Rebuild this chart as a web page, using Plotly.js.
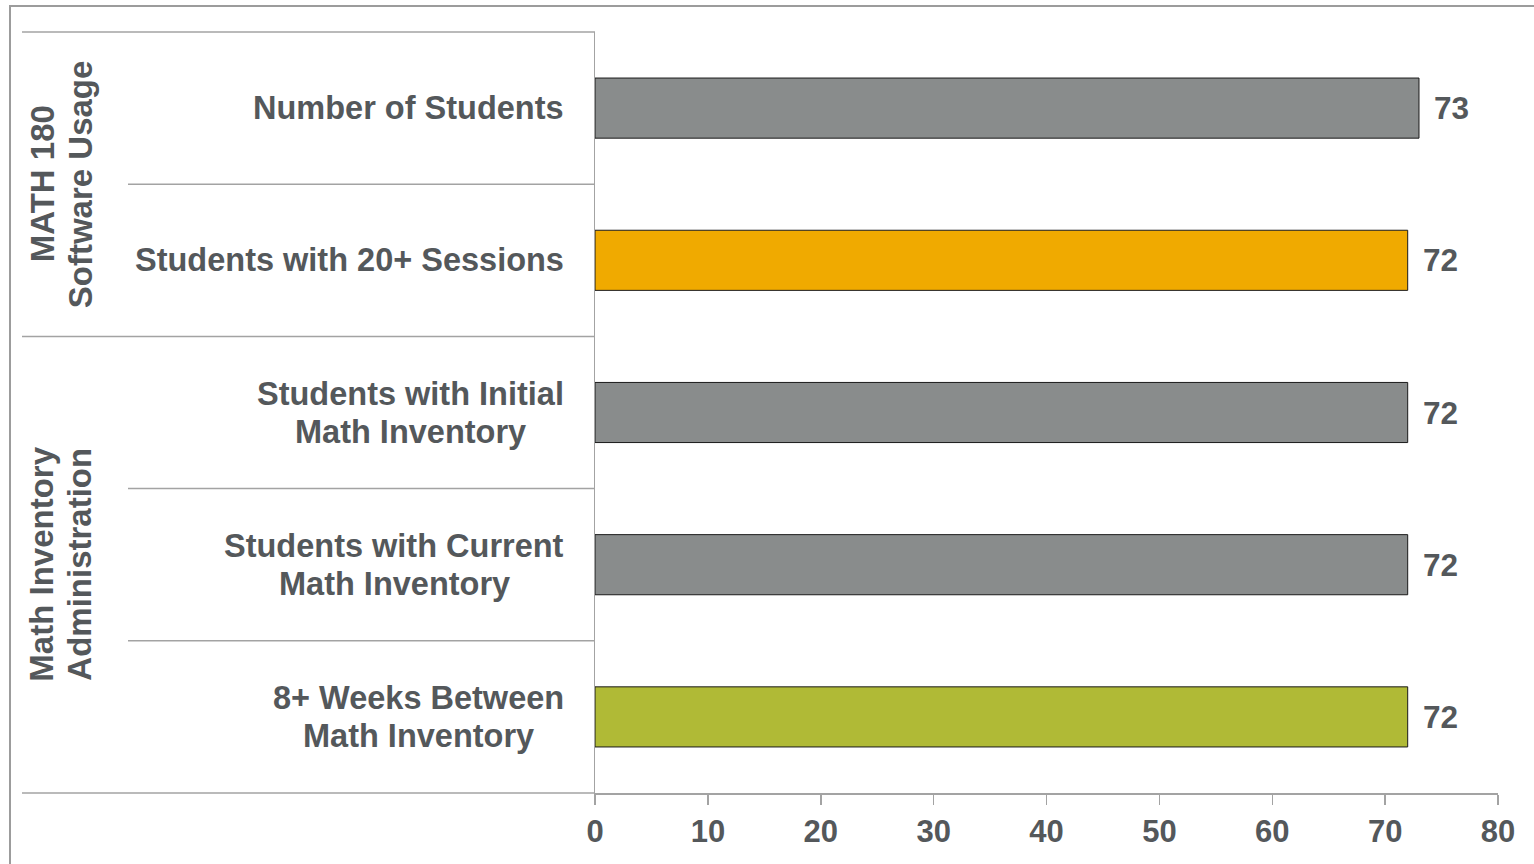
<!DOCTYPE html>
<html>
<head>
<meta charset="utf-8">
<script src="https://cdn.plot.ly/plotly-3.0.1.min.js"></script>
<style>
html,body{margin:0;padding:0;background:#fff;}
#chart{width:1534px;height:864px;}
</style>
</head>
<body>
<div id="chart"></div>
<script>
// ---- data ----
const categories = [
  "Number of Students",
  "Students with 20+ Sessions",
  "Students with Initial Math Inventory",
  "Students with Current Math Inventory",
  "8+ Weeks Between Math Inventory"
];
const categoryLabels = [
  "Number of Students",
  "Students with 20+ Sessions",
  "Students with Initial<br>Math Inventory",
  "Students with Current<br>Math Inventory",
  "8+ Weeks Between<br>Math Inventory"
];
const values = [73, 72, 72, 72, 72];
const barColors = ["#898c8c", "#f0aa00", "#898c8c", "#898c8c", "#b0ba36"];
const groupLabels = ["MATH 180<br>Software Usage", "Math Inventory<br>Administration"];
const groupCenters = [0.5, 3];   // category-index centers of each group
const xTicks = [0, 10, 20, 30, 40, 50, 60, 70, 80];

// ---- layout helpers ----
const W = 1534, H = 864;
const L = 595, R = 1498, T = 32, B = 793;
const px = v => (v - L) / (R - L);
const py = v => (B - v) / (B - T);
const textColor = "#54585b";
const lineColor = "#a3a3a3";
const fontFam = "'Liberation Sans', Arial, sans-serif";
const lineGap = 38;

const trace = {
  type: "bar",
  orientation: "h",
  y: categories,
  x: values,
  marker: { color: barColors, line: { color: "#1a1a1a", width: 1 } },
  hoverinfo: "skip"
};

const annotations = [];
categories.forEach((c, i) => {
  const lines = categoryLabels[i].split("<br>");
  const n = lines.length;
  // find widest line so lines are centered on a common axis, right edge at 566
  lines.forEach((ln, k) => {
    annotations.push({
      xref: "paper", yref: "y", x: px(566), y: c,
      xanchor: "right", yanchor: "middle",
      yshift: ((n - 1) / 2 - k) * lineGap,
      text: ln, showarrow: false, _line: true, _grp: i,
      font: { family: fontFam, size: 32.5, color: textColor, weight: "bold" }
    });
  });
  annotations.push({
    xref: "x", yref: "y", x: values[i], y: c,
    xanchor: "left", yanchor: "middle", xshift: 13,
    text: String(values[i]), showarrow: false,
    font: { family: fontFam, size: 31.5, color: textColor, weight: "bold" }
  });
});
groupLabels.forEach((g, i) => {
  const lines = g.split("<br>");
  const n = lines.length;
  lines.forEach((ln, k) => {
    annotations.push({
      xref: "paper", yref: "y", x: px(61), y: groupCenters[i],
      xanchor: "center", yanchor: "middle",
      xshift: (k - (n - 1) / 2) * lineGap,
      text: ln, showarrow: false, textangle: -90,
      font: { family: fontFam, size: 33, color: textColor, weight: "bold" }
    });
  });
});

// center multi-line category labels on a common axis: measure with canvas
(function centerLines() {
  const ctx = document.createElement("canvas").getContext("2d");
  ctx.font = "bold 32.5px 'Liberation Sans', Arial, sans-serif";
  const groups = {};
  annotations.forEach(a => { if (a._line) (groups[a._grp] = groups[a._grp] || []).push(a); });
  Object.values(groups).forEach(arr => {
    const widths = arr.map(a => ctx.measureText(a.text).width);
    const maxW = Math.max(...widths);
    arr.forEach((a, k) => { a.xshift = -(maxW - widths[k]) / 2; });
  });
  annotations.forEach(a => { delete a._line; delete a._grp; });
})();

const shapes = [
  // outer frame
  { type: "rect", xref: "paper", yref: "paper", x0: px(10), x1: px(1600), y0: py(950), y1: py(6),
    line: { color: "#9c9c9c", width: 2 }, fillcolor: "rgba(0,0,0,0)", layer: "below" },
  // top line
  { type: "line", xref: "paper", yref: "paper", x0: px(22), x1: 0, y0: 1, y1: 1,
    line: { color: lineColor, width: 1.5 } },
  // bottom line extension
  { type: "line", xref: "paper", yref: "paper", x0: px(22), x1: 0, y0: 0, y1: 0,
    line: { color: lineColor, width: 1.5 } }
];
// separators between categories
[0.5, 1.5, 2.5, 3.5].forEach(s => {
  shapes.push({
    type: "line", xref: "paper", yref: "y",
    x0: s === 1.5 ? px(22) : px(128), x1: 0, y0: s, y1: s,
    line: { color: lineColor, width: 1.5 }
  });
});

const layout = {
  width: W, height: H,
  margin: { l: L, r: W - R, t: T, b: H - B, pad: 0 },
  paper_bgcolor: "#fff", plot_bgcolor: "rgba(0,0,0,0)",
  showlegend: false,
  bargap: 0.605,
  xaxis: {
    range: [0, 80], tickvals: xTicks, ticktext: xTicks.map(String),
    showgrid: false, zeroline: false,
    showline: true, linecolor: lineColor, linewidth: 1.5,
    ticks: "outside", ticklen: 10, tickcolor: lineColor, tickwidth: 1.5,
    tickfont: { family: fontFam, size: 31, color: textColor, weight: "bold" },
    fixedrange: true
  },
  yaxis: {
    type: "category", autorange: "reversed",
    showticklabels: false, showgrid: false, zeroline: false,
    showline: true, linecolor: lineColor, linewidth: 1.5, ticks: "",
    fixedrange: true
  },
  annotations: annotations,
  shapes: shapes
};

Plotly.newPlot("chart", [trace], layout, { displayModeBar: false, staticPlot: true });
</script>
</body>
</html>
